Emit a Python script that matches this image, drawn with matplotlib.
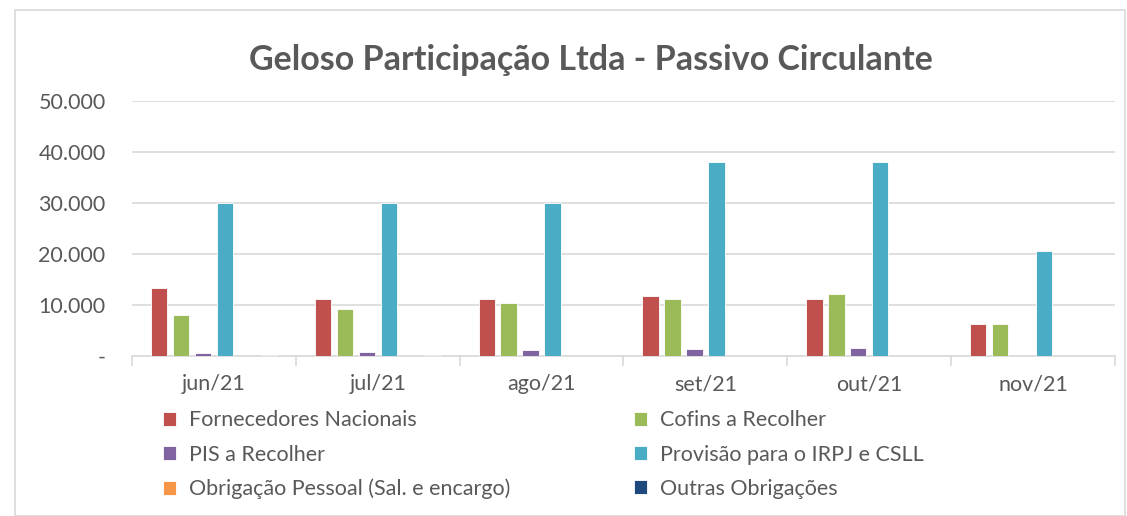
import matplotlib.pyplot as plt
from matplotlib.patches import Rectangle
import numpy as np

plt.rcParams['font.family'] = ['Lato', 'DejaVu Sans']

months = ['jun/21', 'jul/21', 'ago/21', 'set/21', 'out/21', 'nov/21']
series = ['Fornecedores Nacionais', 'Cofins a Recolher', 'PIS a Recolher',
          'Provisão para o IRPJ e CSLL', 'Obrigação Pessoal (Sal. e encargo)',
          'Outras Obrigações']
fornecedores = [13300, 11200, 11200, 11800, 11200, 6300]
cofins = [8000, 9200, 10400, 11200, 12200, 6300]
pis = [600, 800, 1100, 1300, 1500, 50]
provisao = [30000, 30000, 30000, 38000, 38000, 20600]
obrigacao = [0, 0, 0, 0, 0, 0]
outras = [150, 150, 0, 0, 0, 0]
colors = ['#c0504d', '#9bbb59', '#8064a2', '#4bacc6', '#f79646', '#1f497d']

values = [fornecedores, cofins, pis, provisao, obrigacao, outras]

fig = plt.figure(figsize=(11.27, 5.16), dpi=100)
fig.patches.append(Rectangle((15/1127, 0), 1110/1127, 1 - 10/516, transform=fig.transFigure,
                             fill=False, edgecolor='#d9d9d9', lw=1.2))
ax = fig.add_axes([132/1127, 1 - 356/516, (1115-132)/1127, (356-101)/516])

x = np.arange(len(months))
w = 0.1
step = 0.134
for k, (vals, c) in enumerate(zip(values, colors)):
    ax.bar(x + (k - 2.5) * step, vals, w, color=c, edgecolor='white', linewidth=0.6,
           label=series[k], zorder=3)

ax.set_xlim(-0.5, len(months) - 0.5)
ax.set_ylim(0, 50000)
ax.set_yticks(range(0, 50001, 10000))
ax.set_yticklabels(['-', '10.000', '20.000', '30.000', '40.000', '50.000'])
ax.grid(axis='y', color='#d9d9d9', lw=1.2, zorder=0)
for s in ['top', 'right', 'left']:
    ax.spines[s].set_visible(False)
ax.spines['bottom'].set_color('#d9d9d9')
ax.spines['bottom'].set_linewidth(1.2)
ax.set_xticks(np.arange(-0.5, len(months)), minor=False)
ax.set_xticklabels([])
ax.set_xticks(x, minor=True)
ax.set_xticklabels(months, minor=True)
ax.tick_params(axis='x', which='major', length=7, color='#d9d9d9', width=1.2)
ax.tick_params(axis='x', which='minor', length=0, pad=13, labelsize=15.5, labelcolor='#595959')
ax.tick_params(axis='y', length=0, pad=19, labelsize=15.5, labelcolor='#595959')

fig.text(591/1127, 1 - 60/516, 'Geloso Participação Ltda - Passivo Circulante',
         ha='center', va='center', fontsize=24.5, fontweight='bold', color='#595959')

h, l = ax.get_legend_handles_labels()
order = [0, 2, 4, 1, 3, 5]
leg = fig.legend([h[i] for i in order], [l[i] for i in order], ncol=2,
                 loc='upper left', bbox_to_anchor=(144/1127, 1 - 391/516),
                 frameon=False, fontsize=15.5, labelcolor='#595959',
                 handlelength=0.6, handleheight=0.6, handletextpad=0.6,
                 columnspacing=5.75, labelspacing=0.66)

fig.savefig('out.png', dpi=100)
